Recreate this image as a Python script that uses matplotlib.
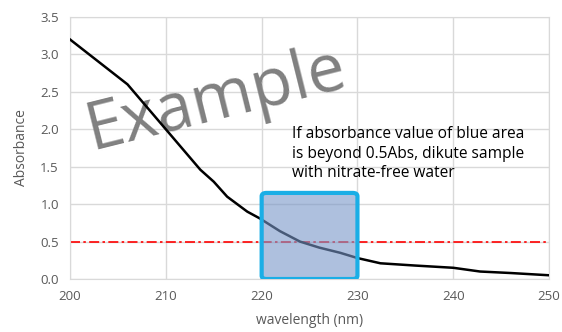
import matplotlib.pyplot as plt
from matplotlib.patches import FancyBboxPatch

# wavelength (nm) and absorbance
wavelength = [200, 203, 206, 207, 208, 210, 212, 213.6, 215, 216.4, 218.5, 219.8, 221.9, 224, 226, 228.2, 230, 232.4, 236, 240, 242.8, 246, 250]
absorbance = [3.2, 2.9, 2.6, 2.45, 2.3, 2.0, 1.7, 1.46, 1.3, 1.1, 0.9, 0.81, 0.64, 0.5, 0.42, 0.35, 0.28, 0.21, 0.18, 0.15, 0.1, 0.08, 0.05]
limit = 0.5
box_x = [220, 230]
box_top = 1.15
note = "If absorbance value of blue area\nis beyond 0.5Abs, dikute sample\nwith nitrate-free water"

plt.rcParams["font.family"] = ["Open Sans", "DejaVu Sans"]
fig = plt.figure(figsize=(5.62, 3.32), dpi=100)
ax = fig.add_axes([0.1246, 0.1596, 0.8524, 0.7892])

ax.plot(wavelength, absorbance, color="black", lw=1.8, zorder=3)
ax.axhline(limit, color="red", lw=1.2, ls=(0, (6, 2, 1.5, 2)), zorder=2)

box = FancyBboxPatch((box_x[0], 0), box_x[1] - box_x[0], box_top,
                     boxstyle="round,pad=0,rounding_size=0.5",
                     mutation_aspect=0.09,
                     facecolor="#7896c8", alpha=0.6, edgecolor="none", zorder=4)
ax.add_patch(box)
edge = FancyBboxPatch((box_x[0], 0), box_x[1] - box_x[0], box_top,
                      boxstyle="round,pad=0,rounding_size=0.5",
                      mutation_aspect=0.09,
                      facecolor="none", edgecolor="#1aaee6", lw=3, zorder=5)
ax.add_patch(edge)

ax.text(223.2, 2.04, note, fontsize=11.2, color="black", va="top", ha="left",
        linespacing=1.3, zorder=6)
ax.text(215.3, 2.39, "Example", fontsize=48, color="#808080", rotation=14,
        ha="center", va="center", rotation_mode="anchor", zorder=1)

ax.set_xlim(200, 250)
ax.set_ylim(0, 3.5)
ax.set_xticks([200, 210, 220, 230, 240, 250])
ax.set_yticks([0, 0.5, 1.0, 1.5, 2.0, 2.5, 3.0, 3.5])
ax.set_yticklabels(["0.0", "0.5", "1.0", "1.5", "2.0", "2.5", "3.0", "3.5"])
ax.grid(True, color="#d9d9d9", lw=1)
ax.set_axisbelow(True)
for s in ax.spines.values():
    s.set_color("#d9d9d9")
ax.tick_params(length=0, labelsize=9.5, colors="#595959", pad=8)
ax.set_xlabel("wavelength (nm)", fontsize=10, color="#595959", labelpad=7)
ax.set_ylabel("Absorbance", fontsize=10, color="#595959", labelpad=8)

fig.savefig("out.png", dpi=100)
